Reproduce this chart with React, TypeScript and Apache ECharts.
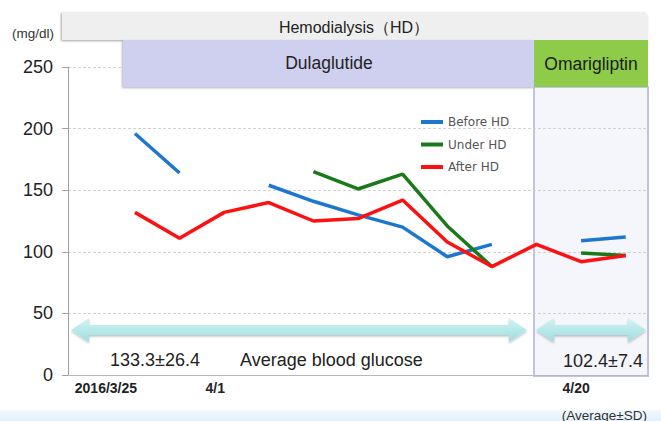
import React, { useEffect, useRef } from 'react';
import * as echarts from 'echarts';

// ---- data ----
const seriesNames = ['Before HD', 'Under HD', 'After HD'];
const beforeHD = [196, 164, null, 154, 141, 130, 120, 96, 106, null, 109, 112];
const underHD = [null, null, null, null, 165, 151, 163, 121, 88, null, 99, 97];
const afterHD = [132, 111, 132, 140, 125, 127, 142, 108, 88, 106, 92, 97];
const xTickLabels = ['2016/3/25', '4/1', '4/20'];
const xTickPositions = [0.85, 3.3, 11.39];
const averageTexts = ['133.3±26.4', '102.4±7.4'];
const periodNames = ['Hemodialysis（HD）', 'Dulaglutide', 'Omarigliptin'];

const FONT = '"Liberation Sans", Arial, sans-serif';

function toXY(vals: (number | null)[]) {
  return vals.map((v, i) => [i + 1.5, v === null ? '-' : v]);
}

function arrowPoints(x1: number, x2: number, cy: number) {
  const hl = 18, hh = 12, sh = 5;
  return [
    [x1, cy], [x1 + hl, cy - hh], [x1 + hl, cy - sh], [x2 - hl, cy - sh], [x2 - hl, cy - hh],
    [x2, cy], [x2 - hl, cy + hh], [x2 - hl, cy + sh], [x1 + hl, cy + sh], [x1 + hl, cy + hh],
  ];
}

const arrowFill = new echarts.graphic.LinearGradient(0, 0, 0, 1, [
  { offset: 0, color: '#d2f3f3' },
  { offset: 0.5, color: '#b6e9ea' },
  { offset: 1, color: '#a2dcdd' },
]);

export default function App() {
  const ref = useRef<HTMLDivElement>(null);
  useEffect(() => {
    if (!ref.current) return;
    const chart = echarts.init(ref.current, undefined, { renderer: 'svg' });
    const colors = ['#1d77cf', '#1a7a1a', '#fb1111'];
    const datas = [beforeHD, underHD, afterHD];
    chart.setOption({
      animation: false,
      backgroundColor: '#ffffff',
      grid: { left: 68, right: 13, top: 67, bottom: 46 },
      legend: {
        data: seriesNames,
        orient: 'vertical',
        left: 416,
        top: 110,
        icon: 'rect',
        itemWidth: 22,
        itemHeight: 4,
        itemGap: 8.5,
        textStyle: { fontFamily: '"DejaVu Sans", sans-serif', fontSize: 12, color: '#555', lineHeight: 14 },
      },
      xAxis: {
        type: 'value',
        min: 0,
        max: 13,
        z: 1,
        axisLine: { show: true, lineStyle: { color: '#b8b8b8', width: 1 } },
        axisTick: { show: false },
        splitLine: { show: false },
        axisLabel: {
          customValues: xTickPositions,
          formatter: (v: number) => {
            const i = xTickPositions.findIndex((p) => Math.abs(p - v) < 1e-6);
            return i >= 0 ? xTickLabels[i] : '';
          },
          fontFamily: FONT,
          fontSize: 14,
          fontWeight: 'bold',
          color: '#222',
          margin: 6,
        },
      },
      yAxis: {
        type: 'value',
        min: 0,
        max: 250,
        interval: 50,
        z: 1,
        axisLine: { show: true, lineStyle: { color: '#a0a0a0', width: 1 } },
        axisTick: { show: true, length: 6, lineStyle: { color: '#a0a0a0' } },
        splitLine: { show: true, lineStyle: { color: '#d2d2d2', type: [3, 2], width: 1 } },
        axisLabel: { fontFamily: FONT, fontSize: 18, color: '#222', margin: 15 },
      },
      series: seriesNames.map((name, k) => ({
        name,
        type: 'line',
        data: toXY(datas[k]),
        symbol: 'none',
        connectNulls: false,
        z: 3,
        lineStyle: { color: colors[k], width: 3.5 },
        itemStyle: { color: colors[k] },
      })),
      graphic: [
        // omarigliptin period panel
        { type: 'rect', z: 0, shape: { x: 534, y: 87, width: 114, height: 289 }, style: { fill: '#f5f5fc', stroke: '#c2c2e6', lineWidth: 2 } },
        // hemodialysis band
        {
          type: 'rect', z: 10, shape: { x: 62, y: 12, width: 586, height: 28, r: [0, 5, 0, 0] },
          style: { fill: '#efefef', shadowBlur: 2, shadowColor: 'rgba(0,0,0,0.35)', shadowOffsetX: -1, shadowOffsetY: 1 },
        },
        { type: 'text', z: 11, x: 354, y: 27, style: { text: periodNames[0], font: `16px ${FONT}`, fill: '#222', align: 'center', verticalAlign: 'middle' } },
        {
          type: 'rect', z: 10, shape: { x: 123, y: 40, width: 411, height: 47 },
          style: { fill: '#cfd0ef', shadowBlur: 2, shadowColor: 'rgba(0,0,0,0.3)', shadowOffsetX: -1, shadowOffsetY: 1 },
        },
        { type: 'text', z: 11, x: 329, y: 63, style: { text: periodNames[1], font: `17.5px ${FONT}`, fill: '#222', align: 'center', verticalAlign: 'middle' } },
        { type: 'rect', z: 10, shape: { x: 534, y: 40, width: 114, height: 47 }, style: { fill: '#8dcb48' } },
        { type: 'text', z: 11, x: 591, y: 64, style: { text: periodNames[2], font: `17.5px ${FONT}`, fill: '#1a1a1a', align: 'center', verticalAlign: 'middle' } },
        { type: 'text', z: 11, x: 12, y: 33, style: { text: '(mg/dl)', font: `13.5px ${FONT}`, fill: '#333', align: 'left', verticalAlign: 'middle' } },
        // average arrows
        {
          type: 'polygon', z: 5, shape: { points: arrowPoints(71, 527, 330) },
          style: { fill: arrowFill, shadowBlur: 2, shadowColor: 'rgba(0,0,0,0.25)', shadowOffsetY: 1.5 },
        },
        {
          type: 'polygon', z: 5, shape: { points: arrowPoints(536, 646, 330) },
          style: { fill: arrowFill, shadowBlur: 2, shadowColor: 'rgba(0,0,0,0.25)', shadowOffsetY: 1.5 },
        },
        { type: 'text', z: 11, x: 110, y: 360, style: { text: averageTexts[0], font: `18px ${FONT}`, fill: '#222', align: 'left', verticalAlign: 'middle' } },
        { type: 'text', z: 11, x: 240, y: 360, style: { text: 'Average blood glucose', font: `18px ${FONT}`, fill: '#222', align: 'left', verticalAlign: 'middle' } },
        { type: 'text', z: 11, x: 643, y: 361, style: { text: averageTexts[1], font: `18px ${FONT}`, fill: '#222', align: 'right', verticalAlign: 'middle' } },
        // bottom band
        {
          type: 'rect', z: 0, shape: { x: 0, y: 410, width: 661, height: 11 },
          style: { fill: new echarts.graphic.LinearGradient(0, 0, 0, 1, [{ offset: 0, color: '#f2f8fd' }, { offset: 1, color: '#e4f1fb' }]) },
        },
        { type: 'text', z: 11, x: 647, y: 415, style: { text: '(Average±SD)', font: `13.5px ${FONT}`, fill: '#333', align: 'right', verticalAlign: 'middle' } },
      ],
    });
    return () => chart.dispose();
  }, []);
  return <div ref={ref} style={{ position: 'fixed', left: 0, top: 0, width: 661, height: 421 }} />;
}
